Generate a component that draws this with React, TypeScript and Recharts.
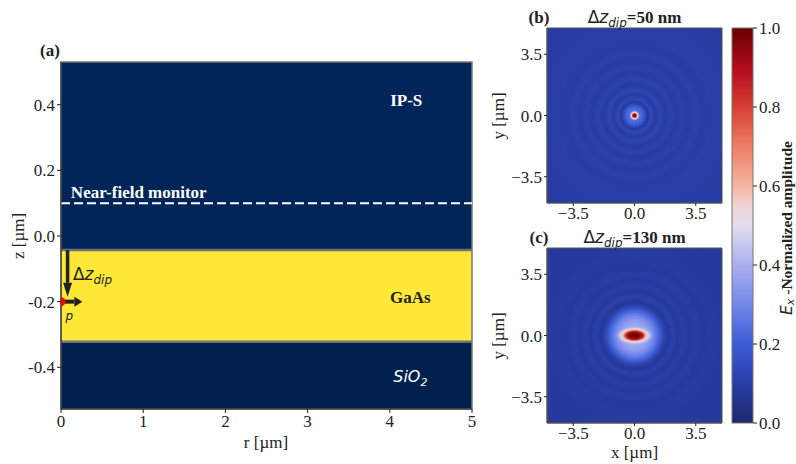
import React from 'react';
import {
  ComposedChart,
  XAxis,
  YAxis,
  ReferenceArea,
  ReferenceLine,
  ReferenceDot,
  Scatter,
} from 'recharts';

const SERIF = '"Liberation Serif", "Times New Roman", serif';
const SANS = '"DejaVu Sans", sans-serif';
const INK = '#222';

// ---- panel (a): waveguide cross-section ----
const rTicks = [0, 1, 2, 3, 4, 5];
const zTicks = [-0.4, -0.2, 0, 0.2, 0.4];
const zDomain = [-0.527, 0.53];
const layerNames = ['SiO2', 'GaAs', 'IP-S'];
const layerBottom = [-0.527, -0.322, -0.043];
const layerTop = [-0.322, -0.043, 0.53];
const interfaceZ = [-0.322, -0.043];
const monitorZ = 0.1;
const dipole = [{ r: 0, z: -0.2 }];
const dipArrowR = 0.08;
const dipArrowTipZ = -0.185;
const pArrowTipR = 0.26;

// ---- panels (b), (c): near-field |Ex| maps ----
const xyTicks = [-3.5, 0, 3.5];
const xyDomain = [-5, 5];
const dipDepths = [50, 130];
const hotspot = [{ x: 0, y: 0 }];

// radial profile (µm -> normalized amplitude)
const profileRadiusB = [0, 0.06, 0.12, 0.18, 0.24, 0.3, 0.45, 0.6, 0.75, 0.95, 1.2, 1.45, 1.75, 2.05, 2.4, 2.75, 3.1, 3.5, 3.9, 4.4, 5.0, 7.1];
const profileAmpB = [1.0, 0.95, 0.8, 0.55, 0.35, 0.24, 0.22, 0.16, 0.08, 0.135, 0.085, 0.125, 0.087, 0.115, 0.09, 0.108, 0.09, 0.104, 0.094, 0.1, 0.095, 0.09];

const profileRadiusC = [0, 0.8, 1.1, 1.4, 1.65, 1.9, 2.2, 2.5, 2.8, 3.15, 3.5, 3.9, 4.4, 5.0, 7.1];
const profileAmpC = [0.42, 0.36, 0.3, 0.22, 0.13, 0.07, 0.11, 0.075, 0.1, 0.08, 0.095, 0.082, 0.09, 0.085, 0.08];

// elongated core of (c): fraction of the ellipse semi-axes -> amplitude / opacity
const coreHalfW = 1.1;
const coreHalfH = 0.55;
const corePos = [0, 0.25, 0.45, 0.58, 0.72, 0.86, 1];
const coreAmp = [1.0, 0.97, 0.85, 0.6, 0.5, 0.45, 0.42];
const coreAlpha = [1, 1, 1, 1, 0.85, 0.45, 0];

// colorbar
const cbarTicks = [0, 0.2, 0.4, 0.6, 0.8, 1.0];
const cmapLevels = [0, 0.1, 0.2, 0.3, 0.4, 0.5, 0.55, 0.6, 0.7, 0.8, 0.9, 1.0];
const cmapRgb = [
  [30, 40, 108], [40, 62, 168], [58, 92, 216], [115, 135, 235], [170, 175, 240],
  [226, 221, 238], [240, 212, 212], [245, 180, 160], [238, 125, 100], [214, 64, 50],
  [178, 10, 26], [104, 0, 0],
];

const layerColors = ['#00214e', '#fde737', '#012558'];
const gradR = 7.1;

function cmap(v: number) {
  let i = 0;
  while (i < cmapLevels.length - 2 && v > cmapLevels[i + 1]) i++;
  const t = Math.max(0, Math.min(1, (v - cmapLevels[i]) / (cmapLevels[i + 1] - cmapLevels[i])));
  const a = cmapRgb[i];
  const b = cmapRgb[i + 1];
  const c = a.map((x, k) => Math.round(x + (b[k] - x) * t));
  return `rgb(${c[0]},${c[1]},${c[2]})`;
}

const fmt1 = (v: number) => v.toFixed(1);
const fmtMinus = (v: number) => (v < 0 ? '\u2212' + Math.abs(v).toFixed(1) : v.toFixed(1));
const tickStyle = { fill: INK, fontSize: 17, fontFamily: SERIF };

const arrowShape = (shaft: number, headW: number, headL: number) => (p: any) => {
  const { x1, y1, x2, y2 } = p;
  const len = Math.hypot(x2 - x1, y2 - y1) || 1;
  const ux = (x2 - x1) / len;
  const uy = (y2 - y1) / len;
  const bx = x2 - ux * headL;
  const by = y2 - uy * headL;
  const nx = -uy;
  const ny = ux;
  return (
    <g>
      <line x1={x1} y1={y1} x2={bx} y2={by} stroke={INK} strokeWidth={shaft} />
      <polygon
        points={`${x2},${y2} ${bx + (nx * headW) / 2},${by + (ny * headW) / 2} ${bx - (nx * headW) / 2},${by - (ny * headW) / 2}`}
        fill={INK}
      />
    </g>
  );
};

const textShape = (node: React.ReactNode) => (p: any) => (
  <g transform={`translate(${p.cx},${p.cy})`}>{node}</g>
);

function GradientDefs() {
  return (
    <svg width={0} height={0} style={{ position: 'absolute' }}>
      <defs>
        <linearGradient id="cbarGrad" x1="0" y1="1" x2="0" y2="0">
          {cmapLevels.map((v, i) => (
            <stop key={i} offset={v} stopColor={cmap(v)} />
          ))}
        </linearGradient>
        <radialGradient id="heatB" cx="0.5" cy="0.5" r={gradR / (xyDomain[1] - xyDomain[0])}>
          {profileRadiusB.map((r, i) => (
            <stop key={i} offset={r / gradR} stopColor={cmap(profileAmpB[i])} />
          ))}
        </radialGradient>
        <radialGradient id="heatC" cx="0.5" cy="0.5" r={gradR / (xyDomain[1] - xyDomain[0])}>
          {profileRadiusC.map((r, i) => (
            <stop key={i} offset={r / gradR} stopColor={cmap(profileAmpC[i])} />
          ))}
        </radialGradient>
        <radialGradient id="coreC" cx="0.5" cy="0.5" r="0.5">
          {corePos.map((f, i) => (
            <stop key={i} offset={f} stopColor={cmap(coreAmp[i])} stopOpacity={coreAlpha[i]} />
          ))}
        </radialGradient>
      </defs>
    </svg>
  );
}

function CrossSection() {
  return (
    <ComposedChart width={490} height={464} margin={{ top: 62, right: 18, bottom: 25, left: 0 }}>
      <XAxis
        type="number"
        dataKey="r"
        domain={[0, 5]}
        ticks={rTicks}
        allowDataOverflow
        height={30}
        tick={tickStyle}
        tickSize={4}
        tickMargin={2}
        tickLine={{ stroke: INK }}
        axisLine={{ stroke: INK }}
      />
      <YAxis
        type="number"
        dataKey="z"
        domain={zDomain}
        ticks={zTicks}
        allowDataOverflow
        width={61}
        tick={tickStyle}
        tickFormatter={fmt1}
        tickSize={4}
        tickMargin={2}
        tickLine={{ stroke: INK }}
        axisLine={{ stroke: INK }}
      />
      {layerNames.map((name, i) => (
        <ReferenceArea
          key={name}
          x1={0}
          x2={5}
          y1={layerBottom[i]}
          y2={layerTop[i]}
          fill={layerColors[i]}
          fillOpacity={1}
          stroke="none"
        />
      ))}
      <ReferenceArea x1={0} x2={5} y1={zDomain[0]} y2={zDomain[1]} fill="none" stroke="#777" strokeWidth={1.5} />
      {interfaceZ.map((z) => (
        <ReferenceLine key={z} y={z} stroke="#6f7178" strokeWidth={2.5} />
      ))}
      <ReferenceLine y={monitorZ} stroke="#fff" strokeWidth={2} strokeDasharray="9 4" />
      <ReferenceLine
        segment={[{ x: dipArrowR, y: interfaceZ[1] }, { x: dipArrowR, y: dipArrowTipZ }]}
        shape={arrowShape(3.5, 9, 14)}
      />
      <ReferenceLine
        segment={[{ x: 0, y: dipole[0].z }, { x: pArrowTipR, y: dipole[0].z }]}
        shape={arrowShape(4, 10, 8)}
      />
      <Scatter
        data={dipole}
        fill="#f00"
        isAnimationActive={false}
        shape={(p: any) => (
          <path d={`M${p.cx},${p.cy - 4.5} A4.5,4.5 0 0 1 ${p.cx},${p.cy + 4.5} Z`} fill="#f00" />
        )}
      />
      <ReferenceDot
        x={0.12}
        y={monitorZ}
        r={0}
        shape={textShape(
          <text x={0} y={-5} fill="#fff" fontFamily={SERIF} fontWeight="bold" fontSize={17}>
            Near-field monitor
          </text>
        )}
      />
      <ReferenceDot
        x={4.2}
        y={0.414}
        r={0}
        shape={textShape(
          <text x={0} y={6} textAnchor="middle" fill="#fff" fontFamily={SERIF} fontWeight="bold" fontSize={17}>
            IP-S
          </text>
        )}
      />
      <ReferenceDot
        x={4.25}
        y={-0.185}
        r={0}
        shape={textShape(
          <text x={0} y={6} textAnchor="middle" fill={INK} fontFamily={SERIF} fontWeight="bold" fontSize={17}>
            GaAs
          </text>
        )}
      />
      <ReferenceDot
        x={4.25}
        y={-0.43}
        r={0}
        shape={textShape(
          <text x={0} y={5} textAnchor="middle" fill="#fff" fontFamily={SANS} fontStyle="italic" fontSize={16}>
            SiO
            <tspan fontSize={11} dy={4}>2</tspan>
          </text>
        )}
      />
      <ReferenceDot
        x={0.145}
        y={-0.135}
        r={0}
        shape={textShape(
          <text x={0} y={0} fill={INK} fontFamily={SANS} fontSize={17}>
            {'\u0394'}
            <tspan fontStyle="italic">z</tspan>
            <tspan fontStyle="italic" fontSize={12} dy={4}>dip</tspan>
          </text>
        )}
      />
      <ReferenceDot
        x={0.1}
        y={-0.245}
        r={0}
        shape={textShape(
          <text x={0} y={4} textAnchor="middle" fill={INK} fontFamily={SANS} fontStyle="italic" fontSize={12}>
            p
          </text>
        )}
      />
    </ComposedChart>
  );
}

function FieldMap({ gradId, withCore, top, height, bottomMargin, axisH }: any) {
  return (
    <div style={{ position: 'absolute', left: 480, top }}>
      <ComposedChart
        width={260}
        height={height}
        margin={{ top: height - 175 - axisH - bottomMargin, right: 18, bottom: bottomMargin, left: 0 }}
      >
        <XAxis
          type="number"
          dataKey="x"
          domain={xyDomain}
          ticks={xyTicks}
          allowDataOverflow
          height={axisH}
          tick={tickStyle}
          tickFormatter={fmtMinus}
          tickSize={3}
          tickMargin={1}
          tickLine={{ stroke: INK }}
          axisLine={{ stroke: '#555' }}
        />
        <YAxis
          type="number"
          dataKey="y"
          domain={xyDomain}
          ticks={xyTicks}
          allowDataOverflow
          width={67}
          tick={tickStyle}
          tickFormatter={fmtMinus}
          tickSize={3}
          tickMargin={2}
          tickLine={{ stroke: INK }}
          axisLine={{ stroke: '#555' }}
        />
        <ReferenceArea
          x1={xyDomain[0]}
          x2={xyDomain[1]}
          y1={xyDomain[0]}
          y2={xyDomain[1]}
          fill={`url(#${gradId})`}
          fillOpacity={1}
          stroke="#555"
        />
        {withCore && (
          <ReferenceArea
            x1={-coreHalfW}
            x2={coreHalfW}
            y1={-coreHalfH}
            y2={coreHalfH}
            fill="url(#coreC)"
            fillOpacity={1}
            stroke="none"
          />
        )}
        <Scatter data={hotspot} isAnimationActive={false} shape={() => <g />} />
      </ComposedChart>
    </div>
  );
}

function Colorbar() {
  return (
    <div style={{ position: 'absolute', left: 700, top: 0 }}>
      <ComposedChart width={96} height={464} margin={{ top: 28, right: 0, bottom: 41, left: 32 }}>
        <XAxis type="number" dataKey="x" domain={[0, 1]} hide allowDataOverflow />
        <YAxis
          type="number"
          dataKey="v"
          orientation="right"
          domain={[0, 1]}
          ticks={cbarTicks}
          allowDataOverflow
          width={43}
          tick={tickStyle}
          tickFormatter={fmt1}
          tickSize={4}
          tickMargin={2}
          tickLine={{ stroke: INK }}
          axisLine={false}
        />
        <ReferenceArea x1={0} x2={1} y1={0} y2={1} fill="url(#cbarGrad)" fillOpacity={1} stroke="#777" />
        <Scatter data={[{ x: 0.5, v: 0.5 }]} isAnimationActive={false} shape={() => <g />} />
      </ComposedChart>
    </div>
  );
}

function Overlay() {
  const label = { fill: INK, fontFamily: SERIF, fontSize: 17 };
  const bold = { ...label, fontWeight: 'bold' as const };
  const title = (depth: number, y: number) => (
    <text x={634.5} y={y} textAnchor="middle" {...bold}>
      <tspan fontFamily={SANS} fontWeight="normal">{'\u0394'}</tspan>
      <tspan fontFamily={SANS} fontWeight="normal" fontStyle="italic">z</tspan>
      <tspan fontFamily={SANS} fontWeight="normal" fontStyle="italic" fontSize={12} dy={4}>dip</tspan>
      <tspan dy={-4}>={depth} nm</tspan>
    </text>
  );
  return (
    <svg width={796} height={464} style={{ position: 'absolute', left: 0, top: 0, pointerEvents: 'none' }}>
      <text x={50} y={56} textAnchor="middle" {...bold}>(a)</text>
      <text x={539} y={23} textAnchor="middle" {...bold}>(b)</text>
      <text x={539} y={243} textAnchor="middle" {...bold}>(c)</text>
      {title(dipDepths[0], 23)}
      {title(dipDepths[1], 243)}
      <text transform="translate(24,236) rotate(-90)" textAnchor="middle" {...label}>z [µm]</text>
      <text x={266} y={448} textAnchor="middle" {...label}>r [µm]</text>
      <text transform="translate(504,116) rotate(-90)" textAnchor="middle" {...label}>y [µm]</text>
      <text transform="translate(504,336) rotate(-90)" textAnchor="middle" {...label}>y [µm]</text>
      <text x={634.5} y={458} textAnchor="middle" {...label}>x [µm]</text>
      <text transform="translate(792,228) rotate(-90)" textAnchor="middle" {...bold} fontSize={15.5}>
        <tspan fontFamily={SANS} fontWeight="normal" fontStyle="italic">E</tspan>
        <tspan fontFamily={SANS} fontWeight="normal" fontStyle="italic" fontSize={11} dy={2}>x</tspan>
        <tspan dy={-2}> -Normalized amplitude</tspan>
      </text>
    </svg>
  );
}

export default function App() {
  return (
    <div style={{ position: 'absolute', left: 0, top: 0, width: 796, height: 464, background: '#fff', overflow: 'hidden' }}>
      <GradientDefs />
      <div style={{ position: 'absolute', left: 0, top: 0 }}>
        <CrossSection />
      </div>
      <FieldMap gradId="heatB" withCore={false} top={0} height={225} bottomMargin={1} axisH={21} />
      <FieldMap gradId="heatC" withCore top={225} height={239} bottomMargin={16} axisH={25} />
      <Colorbar />
      <Overlay />
    </div>
  );
}
